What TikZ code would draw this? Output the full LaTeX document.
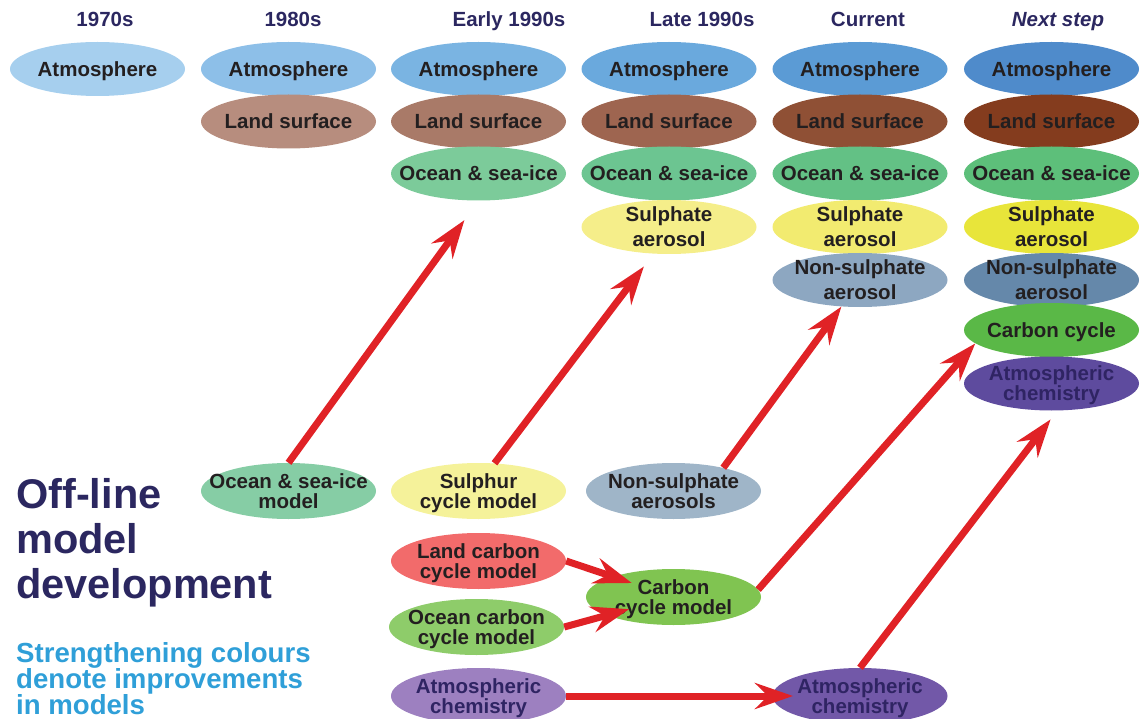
\documentclass[tikz,border=0pt]{standalone}
\usepackage{fontspec}
\setmainfont{Liberation Sans}
\usetikzlibrary{shapes.geometric, arrows.meta}
\definecolor{ink}{HTML}{231F20}
\definecolor{navy}{HTML}{2B2760}
\definecolor{chemink}{HTML}{2F2463}
\definecolor{hint}{HTML}{2F9FD8}
\definecolor{arrowred}{HTML}{E02226}
\definecolor{atm1}{HTML}{A6CFEE}
\definecolor{atm2}{HTML}{8DBFE8}
\definecolor{atm3}{HTML}{7AB4E2}
\definecolor{atm4}{HTML}{6AA9DD}
\definecolor{atm5}{HTML}{5B9BD5}
\definecolor{atm6}{HTML}{4F8BCB}
\definecolor{land2}{HTML}{B78D7E}
\definecolor{land3}{HTML}{A97A68}
\definecolor{land4}{HTML}{9E6550}
\definecolor{land5}{HTML}{8F5035}
\definecolor{land6}{HTML}{843C1E}
\definecolor{ocean3}{HTML}{7CCB9A}
\definecolor{ocean4}{HTML}{6CC591}
\definecolor{ocean5}{HTML}{63C185}
\definecolor{ocean6}{HTML}{5DBF7A}
\definecolor{sulph4}{HTML}{F5EE8A}
\definecolor{sulph5}{HTML}{F2EB70}
\definecolor{sulph6}{HTML}{E8E53A}
\definecolor{nonsulph5}{HTML}{8DA7C1}
\definecolor{nonsulph6}{HTML}{6588AA}
\definecolor{carbon6}{HTML}{5AB847}
\definecolor{chem6}{HTML}{5E4B9E}
\definecolor{oceanoff}{HTML}{86CDA5}
\definecolor{sulphuroff}{HTML}{F5F29A}
\definecolor{nonsulphoff}{HTML}{9FB5C8}
\definecolor{landcoff}{HTML}{F26B6B}
\definecolor{oceancoff}{HTML}{8ECC6A}
\definecolor{carbonoff}{HTML}{80C451}
\definecolor{chemoff}{HTML}{9D80C0}
\definecolor{chemnow}{HTML}{7258A8}

\begin{document}
\begin{tikzpicture}[x=1pt, y=-1pt, >={Stealth[length=38pt, width=26pt, inset=13pt]},
  blob/.style={ellipse, minimum width=175pt, minimum height=54pt, inner xsep=-25pt, inner ysep=-10pt, text depth=0pt, align=center, text=ink, font=\bfseries\fontsize{20.5}{25}\selectfont},
  offline/.style={blob, minimum height=56pt, font=\bfseries\fontsize{20.5}{20}\selectfont},
  era/.style={anchor=base, text=navy, font=\bfseries\fontsize{20.5}{25}\selectfont},
  feed/.style={->, draw=arrowred, line width=7pt}]
\clip (0,0) rectangle (1140,719);

\node (h70) at (105,27) [era] {1970s};
\node (h80) at (293,27) [era] {1980s};
\node (h90e) at (509,27) [era] {Early 1990s};
\node (h90l) at (702,27) [era] {Late 1990s};
\node (hnow) at (868,27) [era] {Current};
\node (hnext) at (1058,27) [era] {\itshape Next step};

\node (atm70) at (97.5,69) [blob, fill=atm1] {Atmosphere};

\node (atm80) at (288.5,69) [blob, fill=atm2] {Atmosphere};
\node (land80) at (288.5,121.5) [blob, fill=land2] {Land surface};

\node (atm90e) at (478.5,69) [blob, fill=atm3] {Atmosphere};
\node (land90e) at (478.5,121.5) [blob, fill=land3] {Land surface};
\node (ocean90e) at (478.5,173.5) [blob, fill=ocean3] {Ocean \& sea-ice};

\node (atm90l) at (669,69) [blob, fill=atm4] {Atmosphere};
\node (land90l) at (669,121.5) [blob, fill=land4] {Land surface};
\node (ocean90l) at (669,173.5) [blob, fill=ocean4] {Ocean \& sea-ice};
\node (sulph90l) at (669,227) [blob, fill=sulph4] {Sulphate\\aerosol};

\node (atmNow) at (860,69) [blob, fill=atm5] {Atmosphere};
\node (landNow) at (860,121.5) [blob, fill=land5] {Land surface};
\node (oceanNow) at (860,173.5) [blob, fill=ocean5] {Ocean \& sea-ice};
\node (sulphNow) at (860,227) [blob, fill=sulph5] {Sulphate\\aerosol};
\node (nonsulphNow) at (860,280) [blob, fill=nonsulph5] {Non-sulphate\\aerosol};

\node (atmNext) at (1051.5,69) [blob, fill=atm6] {Atmosphere};
\node (landNext) at (1051.5,121.5) [blob, fill=land6] {Land surface};
\node (oceanNext) at (1051.5,173.5) [blob, fill=ocean6] {Ocean \& sea-ice};
\node (sulphNext) at (1051.5,227) [blob, fill=sulph6] {Sulphate\\aerosol};
\node (nonsulphNext) at (1051.5,280) [blob, fill=nonsulph6] {Non-sulphate\\aerosol};
\node (carbonNext) at (1051.5,330) [blob, fill=carbon6] {Carbon cycle};
\node (chemNext) at (1051.5,383.5) [blob, fill=chem6, text=chemink, font=\bfseries\fontsize{20.5}{20}\selectfont] {Atmospheric\\chemistry};

\node (oceanOff) at (288.5,491) [offline, fill=oceanoff] {Ocean \& sea-ice\\model};
\node (sulphurOff) at (478.5,491) [offline, fill=sulphuroff] {Sulphur\\cycle model};
\node (nonsulphOff) at (673.5,491) [offline, fill=nonsulphoff] {Non-sulphate\\aerosols};
\node (landcOff) at (478.5,561) [offline, fill=landcoff] {Land carbon\\cycle model};
\node (oceancOff) at (476.5,627) [offline, fill=oceancoff] {Ocean carbon\\cycle model};
\node (carbonOff) at (673.5,597) [offline, fill=carbonoff] {Carbon\\cycle model};
\node (chemOff) at (478.5,696) [offline, fill=chemoff, text=chemink] {Atmospheric\\chemistry};
\node (chemNow) at (860,696) [offline, fill=chemnow, text=chemink] {Atmospheric\\chemistry};

\node (title) at (16,478) [anchor=north west, inner sep=0, align=left, text=navy, font=\bfseries\fontsize{41.5}{45}\selectfont] {Off-line\\model\\development};
\node (note) at (16,642) [anchor=north west, inner sep=0, align=left, text=hint, font=\bfseries\fontsize{27.6}{26}\selectfont] {Strengthening colours\\denote improvements\\in models};

\draw[feed, shorten >=24pt] (oceanOff.north) -- (ocean90e.south);
\draw[feed, shorten >=16pt] (sulphurOff.60) -- (sulph90l.240);
\draw[feed] (nonsulphOff.25) -- (nonsulphNow.235);
\draw[feed] (carbonOff.5) -- (carbonNext.190);
\draw[feed, shorten >=11pt] (chemNow.north) -- (chemNext.282);
\draw[feed, shorten >=44pt] (landcOff.east) -- (carbonOff.center);
\draw[feed, shorten >=46pt] (oceancOff.east) -- (carbonOff.center);
\draw[feed, shorten >=67pt] (chemOff.east) -- (chemNow.center);
\end{tikzpicture}
\end{document}
